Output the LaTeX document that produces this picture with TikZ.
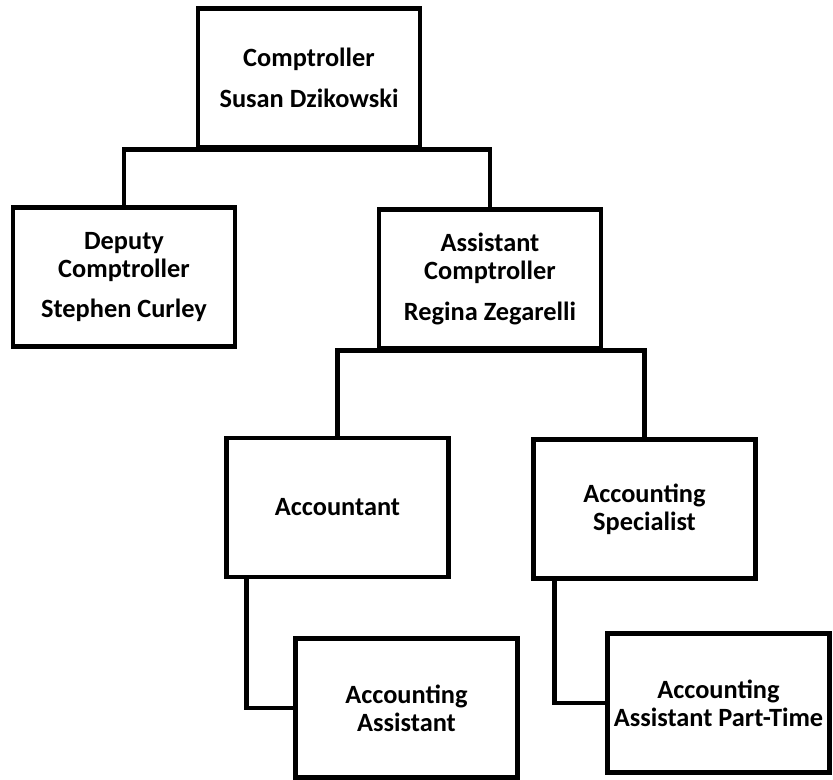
\documentclass[tikz,border=0pt]{standalone}
\usepackage{fontspec}
\setmainfont{Carlito}
\usepackage{tikz}

\begin{document}
\begin{tikzpicture}[x=0.02cm, y=-0.02cm,
    post/.style={draw, line width=2.4pt, minimum width=4.44cm, minimum height=2.78cm,
        align=center, font=\bfseries\fontsize{15}{16}\selectfont, inner sep=0pt},
    link/.style={line width=2.4pt}]
            \useasboundingbox (0,0) rectangle (833,779);

            \node[post] (comp) at (309,78) {Comptroller\\[7pt]Susan Dzikowski};
            \node[post] (deputy) at (124,277) {Deputy\\Comptroller\\[7pt]Stephen Curley};
            \node[post] (asst) at (490,279) {Assistant\\Comptroller\\[7pt]Regina Zegarelli};

            \node[post] (acct) at (337.5,507.5) {Accountant};
            \node[post] (spec) at (644.5,509) {Accounting\\Specialist};

            \node[post] (acctasst) at (406.5,708) {Accounting\\Assistant};
            \node[post] (parttime) at (718.5,703) {Accounting\\Assistant Part-Time};

            \draw[link] (deputy.north) |- (comp.south) -| (asst.north);
            \draw[link] (acct.north) |- (asst.south) -| (spec.north);
            \draw[link] ([xshift=0.44cm]acct.south west) |- (acctasst.west);
            \draw[link] ([xshift=0.46cm]spec.south west) |- (parttime.west);
            \end{tikzpicture}
\end{document}
